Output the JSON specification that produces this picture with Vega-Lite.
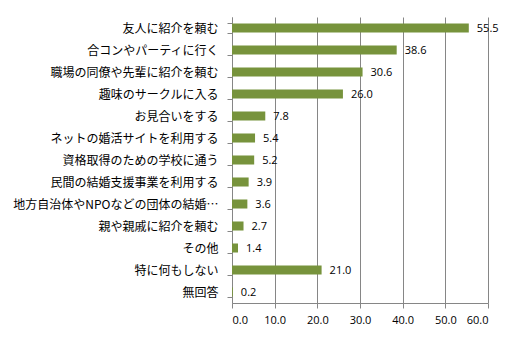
{
  "$schema": "https://vega.github.io/schema/vega-lite/v6.json",
  "width": 256,
  "height": 286,
  "autosize": {"type": "none"},
  "padding": {"left": 232, "top": 17, "right": 29, "bottom": 37},
  "background": "white",
  "data": {
    "values": [
      {"item": "友人に紹介を頼む", "value": 55.5},
      {"item": "合コンやパーティに行く", "value": 38.6},
      {"item": "職場の同僚や先輩に紹介を頼む", "value": 30.6},
      {"item": "趣味のサークルに入る", "value": 26.0},
      {"item": "お見合いをする", "value": 7.8},
      {"item": "ネットの婚活サイトを利用する", "value": 5.4},
      {"item": "資格取得のための学校に通う", "value": 5.2},
      {"item": "民間の結婚支援事業を利用する", "value": 3.9},
      {"item": "地方自治体やNPOなどの団体の結婚…", "value": 3.6},
      {"item": "親や親戚に紹介を頼む", "value": 2.7},
      {"item": "その他", "value": 1.4},
      {"item": "特に何もしない", "value": 21.0},
      {"item": "無回答", "value": 0.2}
    ]
  },
  "encoding": {
    "y": {
      "field": "item",
      "type": "nominal",
      "sort": null,
      "scale": {"paddingInner": 0.59, "paddingOuter": 0.295},
      "axis": {
        "title": null,
        "tickBand": "extent",
        "tickSize": 5,
        "tickColor": "#868686",
        "domainColor": "#868686",
        "labelPadding": 9,
        "labelFont": "Noto Sans CJK JP",
        "labelFontSize": 12,
        "labelColor": "#000000",
        "labelLimit": 220
      }
    }
  },
  "layer": [
    {
      "mark": {"type": "bar", "color": "#77933C"},
      "encoding": {
        "x": {
          "field": "value",
          "type": "quantitative",
          "scale": {"domain": [0, 60], "nice": false},
          "axis": {
            "title": null,
            "values": [0, 10, 20, 30, 40, 50, 60],
            "format": ".1f",
            "grid": true,
            "gridColor": "#868686",
            "tickColor": "#868686",
            "domainColor": "#868686",
            "tickSize": 5,
            "labelPadding": 6,
            "labelFont": "Open Sans",
            "labelFontSize": 11,
            "labelColor": "#000000"
          }
        }
      }
    },
    {
      "mark": {"type": "text", "align": "left", "dx": 8, "dy": 1, "font": "Open Sans", "fontSize": 11, "color": "#000000"},
      "encoding": {
        "x": {"field": "value", "type": "quantitative"},
        "text": {"field": "value", "type": "quantitative", "format": ".1f"}
      }
    }
  ],
  "config": {"view": {"stroke": null}}
}
